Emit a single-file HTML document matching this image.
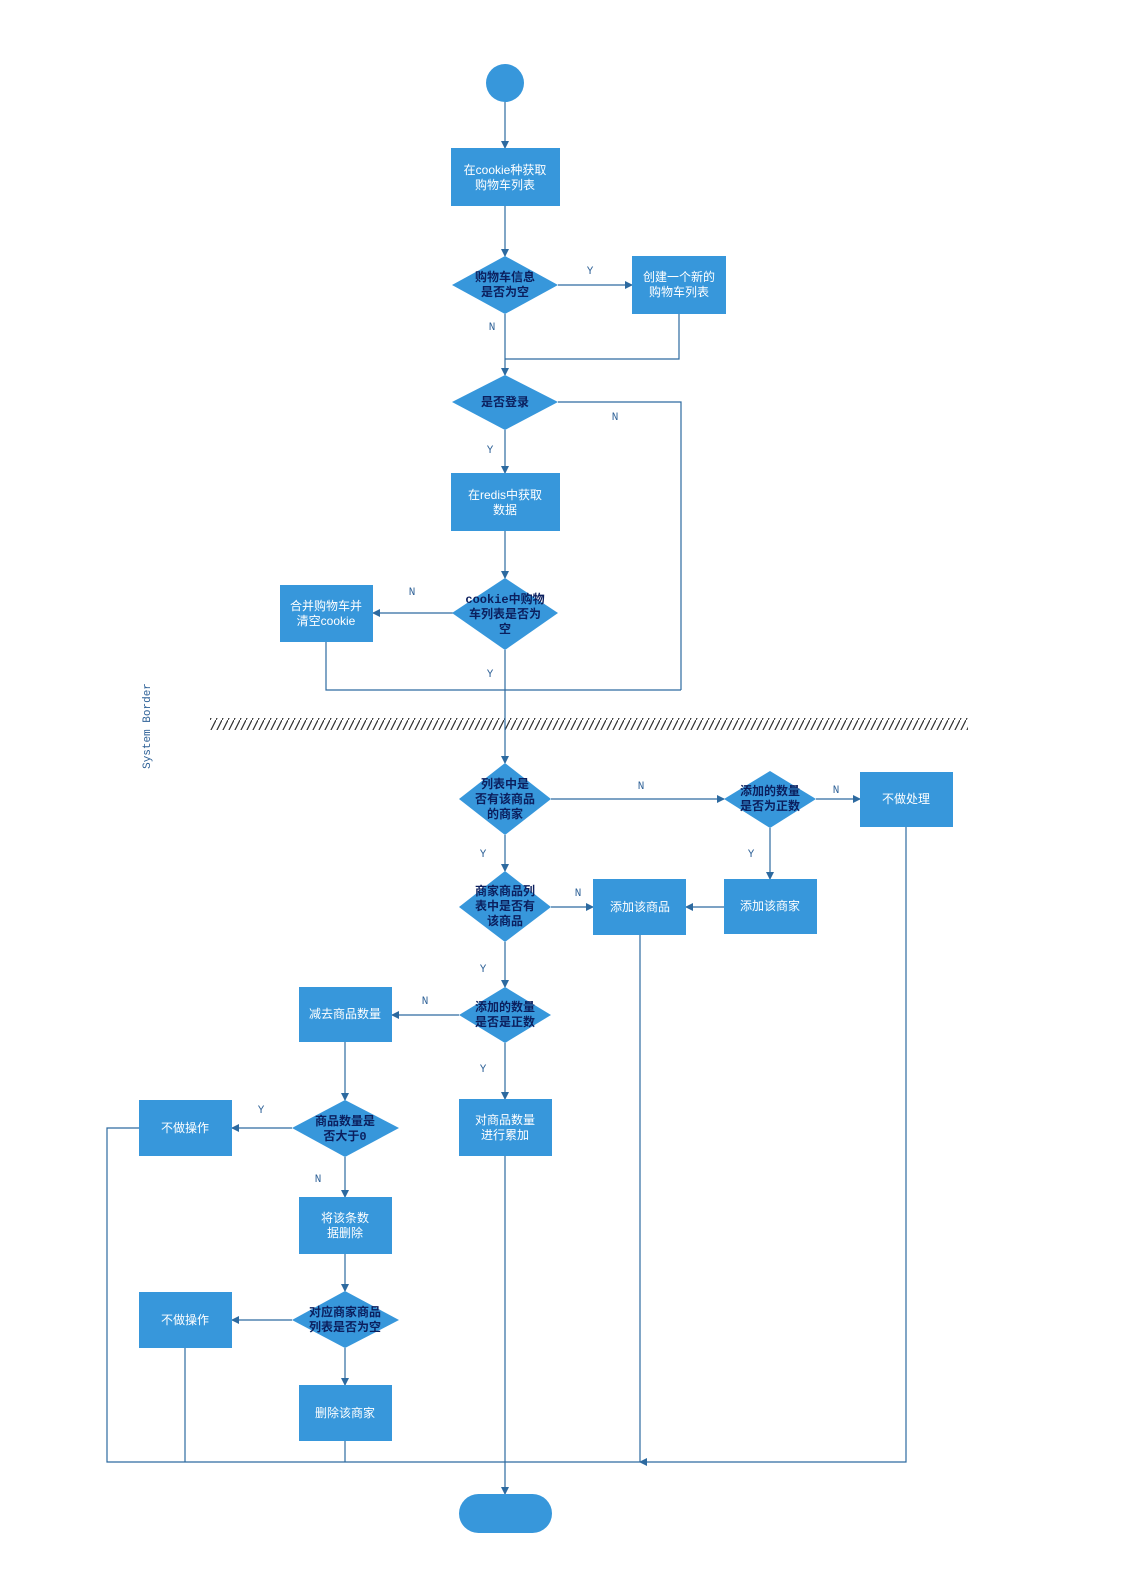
<!DOCTYPE html>
<html><head><meta charset="utf-8"><style>
body{margin:0;background:#fff}
svg{display:block}
.bt{fill:#fff;font-family:"Liberation Sans","Noto Sans CJK SC",sans-serif;font-size:12px;text-anchor:middle}
.dt{fill:#0b1f5e;font-family:"Liberation Mono","Noto Sans CJK SC",monospace;font-size:12px;font-weight:bold;text-anchor:middle}
.lb{fill:#2e6197;font-family:"Liberation Mono",monospace;font-size:11px;text-anchor:middle}
.b{fill:#3797db}
.l{stroke:#2d6aa0;stroke-width:1.2;fill:none}
</style></head><body>
<svg width="1123" height="1587" viewBox="0 0 1123 1587" xmlns="http://www.w3.org/2000/svg">
<defs>
<marker id="a" markerWidth="8" markerHeight="8" refX="7" refY="4" orient="auto" markerUnits="userSpaceOnUse"><path d="M0,0 L8,4 L0,8 z" fill="#2d6aa0"/></marker>
<pattern id="h" width="6" height="12" patternUnits="userSpaceOnUse"><path d="M0,12 L6,0" stroke="#333" stroke-width="1.2"/></pattern>
</defs>
<!-- hatch -->
<rect x="210" y="718" width="758" height="12" fill="url(#h)"/>
<text class="lb" transform="translate(150,726) rotate(-90)" style="font-size:11px">System Border</text>
<!-- lines -->
<g class="l">
<path d="M505,102 V148" marker-end="url(#a)"/>
<path d="M505,206 V256" marker-end="url(#a)"/>
<path d="M558,285 H632" marker-end="url(#a)"/>
<path d="M679,314 V359 H505"/>
<path d="M505,314 V375" marker-end="url(#a)"/>
<path d="M558,402 H681 V690"/>
<path d="M505,430 V473" marker-end="url(#a)"/>
<path d="M505,531 V578" marker-end="url(#a)"/>
<path d="M453,613 H373" marker-end="url(#a)"/>
<path d="M326,642 V690 H681"/>
<path d="M505,650 V763" marker-end="url(#a)"/>
<path d="M551,799 H724" marker-end="url(#a)"/>
<path d="M816,799 H860" marker-end="url(#a)"/>
<path d="M906,827 V1462 H640" marker-end="url(#a)"/>
<path d="M770,828 V879" marker-end="url(#a)"/>
<path d="M724,907 H686" marker-end="url(#a)"/>
<path d="M505,835 V871" marker-end="url(#a)"/>
<path d="M551,907 H593" marker-end="url(#a)"/>
<path d="M640,935 V1462"/>
<path d="M505,942 V987" marker-end="url(#a)"/>
<path d="M459,1015 H392" marker-end="url(#a)"/>
<path d="M505,1043 V1099" marker-end="url(#a)"/>
<path d="M505,1156 V1494" marker-end="url(#a)"/>
<path d="M345,1042 V1100" marker-end="url(#a)"/>
<path d="M292,1128 H232" marker-end="url(#a)"/>
<path d="M139,1128 H107 V1462 H640"/>
<path d="M345,1157 V1197" marker-end="url(#a)"/>
<path d="M345,1254 V1291" marker-end="url(#a)"/>
<path d="M292,1320 H232" marker-end="url(#a)"/>
<path d="M185,1348 V1462"/>
<path d="M345,1348 V1385" marker-end="url(#a)"/>
<path d="M345,1441 V1462"/>
</g>
<!-- shapes -->
<circle cx="505" cy="83" r="19" class="b"/>
<rect x="451" y="148" width="109" height="58" class="b"/>
<text class="bt" x="505" y="174">在cookie种获取</text><text class="bt" x="505" y="189">购物车列表</text>
<polygon points="452,285 505,256 558,285 505,314" class="b"/>
<text class="dt" x="505" y="281">购物车信息</text><text class="dt" x="505" y="296">是否为空</text>
<rect x="632" y="256" width="94" height="58" class="b"/>
<text class="bt" x="679" y="281">创建一个新的</text><text class="bt" x="679" y="296">购物车列表</text>
<polygon points="452,402 505,375 558,402 505,430" class="b"/>
<text class="dt" x="505" y="406">是否登录</text>
<rect x="451" y="473" width="109" height="58" class="b"/>
<text class="bt" x="505" y="499">在redis中获取</text><text class="bt" x="505" y="514">数据</text>
<polygon points="452,613 505,578 558,613 505,650" class="b"/>
<text class="dt" x="505" y="603">cookie中购物</text><text class="dt" x="505" y="618">车列表是否为</text><text class="dt" x="505" y="633">空</text>
<rect x="280" y="585" width="93" height="57" class="b"/>
<text class="bt" x="326" y="610">合并购物车并</text><text class="bt" x="326" y="625">清空cookie</text>
<polygon points="459,799 505,763 551,799 505,835" class="b"/>
<text class="dt" x="505" y="788">列表中是</text><text class="dt" x="505" y="803">否有该商品</text><text class="dt" x="505" y="818">的商家</text>
<polygon points="724,799 770,771 816,799 770,828" class="b"/>
<text class="dt" x="770" y="795">添加的数量</text><text class="dt" x="770" y="810">是否为正数</text>
<rect x="860" y="772" width="93" height="55" class="b"/>
<text class="bt" x="906" y="803">不做处理</text>
<polygon points="459,907 505,871 551,907 505,942" class="b"/>
<text class="dt" x="505" y="895">商家商品列</text><text class="dt" x="505" y="910">表中是否有</text><text class="dt" x="505" y="925">该商品</text>
<rect x="593" y="879" width="93" height="56" class="b"/>
<text class="bt" x="640" y="911">添加该商品</text>
<rect x="724" y="879" width="93" height="55" class="b"/>
<text class="bt" x="770" y="910">添加该商家</text>
<polygon points="459,1015 505,987 551,1015 505,1043" class="b"/>
<text class="dt" x="505" y="1011">添加的数量</text><text class="dt" x="505" y="1026">是否是正数</text>
<rect x="299" y="987" width="93" height="55" class="b"/>
<text class="bt" x="345" y="1018">减去商品数量</text>
<rect x="459" y="1099" width="93" height="57" class="b"/>
<text class="bt" x="505" y="1124">对商品数量</text><text class="bt" x="505" y="1139">进行累加</text>
<polygon points="292,1128 345,1100 399,1128 345,1157" class="b"/>
<text class="dt" x="345" y="1125">商品数量是</text><text class="dt" x="345" y="1140">否大于0</text>
<rect x="139" y="1100" width="93" height="56" class="b"/>
<text class="bt" x="185" y="1132">不做操作</text>
<rect x="299" y="1197" width="93" height="57" class="b"/>
<text class="bt" x="345" y="1222">将该条数</text><text class="bt" x="345" y="1237">据删除</text>
<polygon points="292,1320 345,1291 399,1320 345,1348" class="b"/>
<text class="dt" x="345" y="1316">对应商家商品</text><text class="dt" x="345" y="1331">列表是否为空</text>
<rect x="139" y="1292" width="93" height="56" class="b"/>
<text class="bt" x="185" y="1324">不做操作</text>
<rect x="299" y="1385" width="93" height="56" class="b"/>
<text class="bt" x="345" y="1417">删除该商家</text>
<rect x="459" y="1494" width="93" height="39" rx="19.5" class="b"/>
<!-- labels -->
<text class="lb" x="590" y="274">Y</text>
<text class="lb" x="492" y="330">N</text>
<text class="lb" x="615" y="420">N</text>
<text class="lb" x="490" y="453">Y</text>
<text class="lb" x="412" y="595">N</text>
<text class="lb" x="490" y="677">Y</text>
<text class="lb" x="641" y="789">N</text>
<text class="lb" x="836" y="793">N</text>
<text class="lb" x="483" y="857">Y</text>
<text class="lb" x="751" y="857">Y</text>
<text class="lb" x="578" y="896">N</text>
<text class="lb" x="483" y="972">Y</text>
<text class="lb" x="425" y="1004">N</text>
<text class="lb" x="483" y="1072">Y</text>
<text class="lb" x="261" y="1113">Y</text>
<text class="lb" x="318" y="1182">N</text>
</svg>
</body></html>
